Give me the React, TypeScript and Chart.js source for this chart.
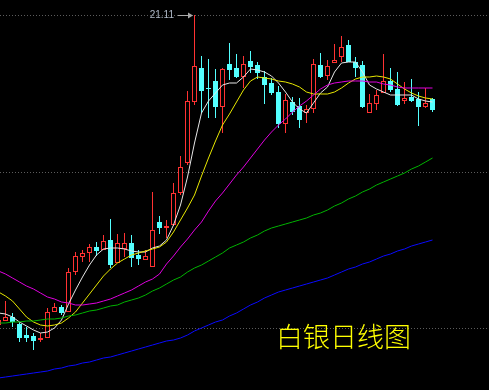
import { useEffect, useRef } from "react";
import { Chart, registerables } from "chart.js";

Chart.register(...registerables);

const openPrices = [
  14.91, 14.99, 15.07, 14.93, 14.71, 14.69, 14.61, 14.65, 15.17, 15.27,
  15.17, 15.97, 16.27, 16.35, 16.47, 16.41, 16.61, 16.15, 16.43, 16.55,
  16.31, 16.21, 16.07, 16.97, 16.85, 16.91, 17.55, 18.15, 19.37, 20.05,
  19.65, 19.79, 19.27, 20.13, 20.05, 19.87, 20.19, 20.11, 19.87, 19.75,
  19.57, 18.93, 19.37, 19.29, 19.15, 19.23, 20.11, 19.89, 20.15, 20.27,
  20.51, 20.17, 20.11, 19.15, 19.33, 19.55, 19.79, 19.63, 19.39, 19.47,
  19.43, 19.27, 19.43,
];
const closePrices = [
  15.01, 15.07, 14.97, 14.65, 14.65, 14.59, 14.65, 15.17, 15.27, 15.15,
  15.97, 16.29, 16.35, 16.47, 16.39, 16.59, 16.11, 16.55, 16.55, 16.25,
  16.23, 16.29, 16.81, 16.85, 16.89, 17.55, 18.07, 19.39, 20.09, 19.59,
  19.63, 19.27, 20.03, 20.01, 19.87, 20.13, 20.07, 19.95, 19.71, 19.55,
  18.93, 19.41, 19.17, 19.01, 19.23, 20.13, 19.87, 20.09, 20.21, 20.47,
  20.17, 20.05, 19.27, 19.35, 19.51, 19.79, 19.61, 19.31, 19.45, 19.39,
  19.27, 19.35, 19.21,
];
const highPrices = [
  15.05, 15.39, 15.15, 14.97, 14.87, 14.75, 14.75, 15.25, 15.35, 15.31,
  16.05, 16.37, 16.41, 16.53, 16.57, 16.71, 17.03, 16.73, 16.75, 16.71,
  16.41, 16.41, 17.57, 17.09, 17.01, 17.75, 18.29, 19.59, 21.11, 20.29,
  20.23, 20.03, 20.05, 20.55, 20.33, 20.29, 20.39, 20.17, 19.99, 19.85,
  19.69, 19.53, 19.47, 19.45, 19.31, 20.23, 20.35, 20.21, 20.53, 20.69,
  20.61, 20.27, 20.19, 19.53, 19.61, 20.33, 20.05, 19.97, 19.77, 19.83,
  19.57, 19.65, 19.45,
];
const lowPrices = [
  14.89, 14.99, 14.87, 14.57, 14.57, 14.41, 14.57, 14.65, 15.17, 15.11,
  15.17, 15.91, 16.17, 16.17, 16.29, 16.41, 16.05, 16.15, 16.27, 16.07,
  16.11, 16.21, 16.07, 16.73, 16.65, 16.89, 17.51, 18.11, 19.31, 19.15,
  19.05, 19.05, 18.75, 19.81, 19.85, 19.65, 19.95, 19.83, 19.33, 19.51,
  18.85, 18.75, 19.11, 18.85, 18.95, 19.15, 19.85, 19.81, 20.15, 20.17,
  20.17, 19.87, 19.25, 19.15, 19.21, 19.55, 19.57, 19.29, 19.33, 19.37,
  18.89, 19.25, 19.17,
];

const ma5 = [
  15.15, 15.13, 15.07, 14.97, 14.89, 14.81, 14.75, 14.77, 14.85, 15.01,
  15.33, 15.61, 15.87, 16.11, 16.31, 16.43, 16.45, 16.45, 16.43, 16.39,
  16.37, 16.37, 16.45, 16.49, 16.61, 16.91, 17.31, 17.87, 18.55, 19.15,
  19.39, 19.55, 19.71, 19.75, 19.75, 19.87, 20.03, 20.01, 19.97, 19.89,
  19.75, 19.57, 19.37, 19.23, 19.15, 19.35, 19.55, 19.67, 19.97, 20.15,
  20.17, 20.17, 19.97, 19.71, 19.63, 19.57, 19.51, 19.51, 19.51, 19.51,
  19.43, 19.39, 19.37,
];
const ma10 = [
  15.57, 15.49, 15.39, 15.23, 15.07, 14.97, 14.91, 14.89, 14.91, 14.95,
  15.05, 15.17, 15.35, 15.53, 15.71, 15.89, 16.03, 16.15, 16.23, 16.31,
  16.35, 16.39, 16.43, 16.47, 16.57, 16.77, 17.01, 17.25, 17.51, 17.89,
  18.25, 18.59, 18.91, 19.13, 19.37, 19.61, 19.79, 19.87, 19.85, 19.83,
  19.79, 19.77, 19.73, 19.67, 19.57, 19.53, 19.53, 19.53, 19.57, 19.65,
  19.75, 19.83, 19.87, 19.87, 19.89, 19.87, 19.83, 19.73, 19.63, 19.55,
  19.49, 19.45, 19.43,
];
const ma20 = [
  15.99, 15.93, 15.85, 15.77, 15.69, 15.63, 15.55, 15.47, 15.43, 15.37,
  15.35, 15.31, 15.31, 15.33, 15.35, 15.39, 15.43, 15.49, 15.55, 15.61,
  15.69, 15.77, 15.83, 15.93, 16.13, 16.29, 16.47, 16.63, 16.81, 16.97,
  17.19, 17.39, 17.55, 17.73, 17.91, 18.07, 18.25, 18.43, 18.61, 18.77,
  18.91, 19.03, 19.17, 19.29, 19.39, 19.51, 19.63, 19.71, 19.75, 19.77,
  19.79, 19.79, 19.79, 19.77, 19.77, 19.73, 19.71, 19.67, 19.65, 19.65,
  19.65, 19.65, 19.65,
];
const ma60 = [
  14.95, 14.95, 14.97, 14.97, 14.99, 14.99, 15.01, 15.03, 15.03, 15.05,
  15.09, 15.11, 15.15, 15.19, 15.21, 15.25, 15.29, 15.31, 15.37, 15.41,
  15.45, 15.51, 15.59, 15.65, 15.73, 15.81, 15.87, 15.97, 16.05, 16.11,
  16.19, 16.27, 16.35, 16.45, 16.51, 16.57, 16.65, 16.71, 16.79, 16.85,
  16.89, 16.93, 16.97, 17.01, 17.05, 17.11, 17.15, 17.21, 17.29, 17.35,
  17.43, 17.49, 17.57, 17.63, 17.71, 17.77, 17.83, 17.89, 17.95, 18.03,
  18.09, 18.17, 18.25,
];
const ma120 = [
  13.85, 13.87, 13.89, 13.91, 13.93, 13.95, 13.97, 13.99, 14.03, 14.05,
  14.09, 14.11, 14.15, 14.17, 14.21, 14.25, 14.27, 14.31, 14.35, 14.39,
  14.43, 14.47, 14.51, 14.55, 14.59, 14.61, 14.65, 14.71, 14.79, 14.85,
  14.91, 14.97, 15.01, 15.09, 15.15, 15.23, 15.31, 15.37, 15.45, 15.51,
  15.57, 15.61, 15.65, 15.69, 15.73, 15.77, 15.81, 15.85, 15.91, 15.97,
  16.03, 16.07, 16.13, 16.17, 16.23, 16.29, 16.33, 16.39, 16.43, 16.49,
  16.53, 16.57, 16.61,
];

const categories = openPrices.map((_, i) => i);
const gridValues = [21.11, 17.97, 14.85];
const peakIndex = 28;
const peakLabel = "21.11";
const titleText = "白银日线图";

const RED = "#ff3232";
const CYAN = "#54ffff";

export default function App() {
  const ref = useRef<HTMLCanvasElement>(null);

  useEffect(() => {
    if (!ref.current) return;
    const up = categories.map((i) => closePrices[i] >= openPrices[i]);

    const gridPlugin = {
      id: "dottedGrid",
      beforeDatasetsDraw(chart: any) {
        const { ctx, chartArea, scales } = chart;
        ctx.save();
        ctx.strokeStyle = "#5c5c5c";
        ctx.lineWidth = 1;
        ctx.setLineDash([1, 2]);
        gridValues.forEach((v) => {
          const y = Math.round(scales.y.getPixelForValue(v)) + 0.5;
          ctx.beginPath();
          ctx.moveTo(chartArea.left, y);
          ctx.lineTo(chartArea.right, y);
          ctx.stroke();
        });
        ctx.restore();
      },
    };

    const peakPlugin = {
      id: "peakLabel",
      afterDatasetsDraw(chart: any) {
        const { ctx, scales } = chart;
        const px = Math.floor(scales.x.getPixelForValue(peakIndex));
        const py = Math.round(scales.y.getPixelForValue(highPrices[peakIndex])) + 0.5;
        ctx.save();
        ctx.strokeStyle = "#a8a8a8";
        ctx.fillStyle = "#a8a8a8";
        ctx.lineWidth = 1;
        ctx.beginPath();
        ctx.moveTo(px - 16, py);
        ctx.lineTo(px - 5, py);
        ctx.stroke();
        ctx.beginPath();
        ctx.moveTo(px - 1, py);
        ctx.lineTo(px - 6, py - 3);
        ctx.lineTo(px - 6, py + 3);
        ctx.closePath();
        ctx.fill();
        ctx.font = "10px 'Liberation Sans'";
        ctx.fillStyle = "#aeb8c6";
        ctx.textAlign = "right";
        ctx.textBaseline = "middle";
        ctx.fillText(peakLabel, px - 20, py);
        ctx.restore();
      },
    };

    const lineDs = (values: number[], color: string) => ({
      type: "line" as const,
      data: values.map((v, i) => ({ x: categories[i], y: v })),
      borderColor: color,
      borderWidth: 1,
      pointRadius: 0,
      tension: 0,
      fill: false,
      order: 1,
    });

    const chart = new Chart(ref.current, {
      type: "bar",
      data: {
        datasets: [
          {
            type: "bar",
            data: categories.map((i) => ({ x: i, y: [lowPrices[i], highPrices[i]] })) as any,
            backgroundColor: categories.map((i) => (up[i] ? RED : CYAN)),
            borderWidth: 0,
            barThickness: 1,
            grouped: false,
            inflateAmount: 0,
            order: 3,
          } as any,
          {
            type: "bar",
            data: categories.map((i) => ({
              x: i,
              y: [Math.min(openPrices[i], closePrices[i]), Math.max(openPrices[i], closePrices[i])],
            })) as any,
            backgroundColor: categories.map((i) => (up[i] ? "#000000" : CYAN)),
            borderColor: categories.map((i) => (up[i] ? RED : CYAN)),
            borderWidth: 1,
            borderSkipped: false,
            barThickness: 5,
            grouped: false,
            inflateAmount: 0,
            order: 2,
          } as any,
          lineDs(ma120, "#0a0aff"),
          lineDs(ma60, "#00b400"),
          lineDs(ma20, "#e000e0"),
          lineDs(ma10, "#e8e800"),
          lineDs(ma5, "#e6e6e6"),
        ],
      },
      options: {
        animation: false,
        responsive: false,
        devicePixelRatio: 1,
        events: [],
        layout: { padding: 0 },
        plugins: { legend: { display: false }, tooltip: { enabled: false } },
        scales: {
          x: { type: "linear", display: false, offset: false, min: 1.5 / 7, max: 490.5 / 7 },
          y: { type: "linear", display: false, min: 13.61, max: 21.41 },
        },
      },
      plugins: [gridPlugin, peakPlugin],
    });
    return () => chart.destroy();
  }, []);

  return (
    <div
      style={{
        position: "fixed",
        left: 0,
        top: 0,
        width: 489,
        height: 390,
        background: "#000",
        overflow: "hidden",
      }}
    >
      <canvas ref={ref} width={489} height={390} style={{ display: "block" }} />
      <div
        style={{
          position: "absolute",
          left: 276,
          top: 322,
          fontSize: 27,
          lineHeight: "27px",
          fontFamily: "'Noto Sans CJK SC'",
          fontWeight: 300,
          color: "#ffff00",
          whiteSpace: "nowrap",
        }}
      >
        {titleText}
      </div>
    </div>
  );
}
